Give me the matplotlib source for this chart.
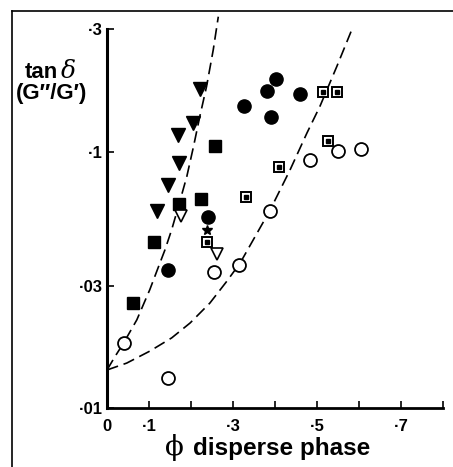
import numpy as np
import matplotlib.pyplot as plt
from matplotlib.lines import Line2D

# ------------------------
# Data
# ------------------------
tri_filled_x = [0.222, 0.204, 0.170, 0.172, 0.146, 0.119]
tri_filled_y = [0.175, 0.129, 0.116, 0.0906, 0.0742, 0.0588]

sq_filled_x = [0.257, 0.2245, 0.171, 0.111, 0.0626]
sq_filled_y = [0.1055, 0.0655, 0.0622, 0.0444, 0.0256]

circ_filled_x = [0.402, 0.381, 0.459, 0.326, 0.390, 0.240, 0.145]
circ_filled_y = [0.192, 0.172, 0.168, 0.150, 0.136, 0.0557, 0.0346]

circ_open_x = [0.040, 0.145, 0.254, 0.314, 0.387, 0.483, 0.549, 0.605]
circ_open_y = [0.0180, 0.0131, 0.0340, 0.0362, 0.0589, 0.0928, 0.1006, 0.1024]

sq_dot_x = [0.514, 0.548, 0.527, 0.409, 0.330, 0.238]
sq_dot_y = [0.170, 0.170, 0.110, 0.087, 0.0666, 0.0445]

tri_open_x = [0.176, 0.262]
tri_open_y = [0.0562, 0.0399]

star_x = [0.238]
star_y = [0.0496]

# dashed curves
curve1_x = [0, 0.019, 0.039, 0.071, 0.102, 0.126, 0.138, 0.154, 0.170, 0.190,
            0.206, 0.221, 0.237, 0.253, 0.265]
curve1_y = [0.0141, 0.0159, 0.0179, 0.0221, 0.0290, 0.0368, 0.0414, 0.0496, 0.0611,
            0.0799, 0.1046, 0.137, 0.179, 0.249, 0.335]

curve2_x = [0, 0.047, 0.102, 0.154, 0.198, 0.245, 0.285, 0.317, 0.388, 0.436,
            0.476, 0.507, 0.547, 0.581]
curve2_y = [0.0141, 0.0150, 0.0167, 0.0188, 0.0215, 0.0257, 0.0312, 0.0368, 0.0590,
            0.0849, 0.118, 0.150, 0.214, 0.293]

x_ticks = [0, 0.1, 0.2, 0.3, 0.4, 0.5, 0.6, 0.7, 0.8]
x_tick_labels = ['0', '\u00b71', '', '\u00b73', '', '\u00b75', '', '\u00b77', '']
y_ticks = [0.01, 0.03, 0.1, 0.3]
y_tick_labels = ['\u00b701', '\u00b703', '\u00b71', '\u00b73']

plt.rcParams['font.family'] = ['Liberation Sans', 'DejaVu Sans']

fig = plt.figure(figsize=(4.53, 4.67), dpi=100)
ax = fig.add_axes([0.2362, 0.1257, 0.7417, 0.8122])

# scan border (top and left)
fig.add_artist(Line2D([0.026, 1.0], [0.977, 0.977], color='black', lw=1.2))
fig.add_artist(Line2D([0.026, 0.026], [0.0, 0.977], color='black', lw=1.2))

ax.set_yscale('log')
ax.set_xlim(0, 0.8)
ax.set_ylim(0.01, 0.3)

dash = (7, 3.5)
ax.plot(curve1_x, curve1_y, color='black', lw=1.2, dashes=dash, clip_on=False)
ax.plot(curve2_x, curve2_y, color='black', lw=1.2, dashes=dash, clip_on=False)

ax.plot(tri_filled_x, tri_filled_y, 'v', ms=9.5, color='black', clip_on=False)
ax.plot(sq_filled_x, sq_filled_y, 's', ms=8, color='black', clip_on=False)
ax.plot(circ_filled_x, circ_filled_y, 'o', ms=9.5, color='black', clip_on=False)
ax.plot(circ_open_x, circ_open_y, 'o', ms=9.3, mfc='white', mec='black', mew=1.3,
        clip_on=False)
ax.plot(sq_dot_x, sq_dot_y, 's', ms=7.5, mfc='white', mec='black', mew=1.4,
        clip_on=False)
ax.plot(sq_dot_x, sq_dot_y, 's', ms=2.5, color='black', clip_on=False)
ax.plot(tri_open_x, tri_open_y, 'v', ms=8.5, mfc='white', mec='black', mew=1.2,
        clip_on=False)
ax.plot(star_x, star_y, '*', ms=7, color='black', clip_on=False)

for s in ['top', 'right']:
    ax.spines[s].set_visible(False)
ax.spines['left'].set_linewidth(2.2)
ax.spines['bottom'].set_linewidth(2.0)

ax.set_xticks(x_ticks)
ax.set_xticklabels(x_tick_labels, fontsize=12, fontweight='bold')
ax.set_yticks(y_ticks)
ax.set_yticklabels(y_tick_labels, fontsize=12, fontweight='bold')
ax.yaxis.set_minor_locator(plt.NullLocator())
ax.tick_params(axis='both', direction='in', length=5, width=1.2)
ax.tick_params(axis='x', pad=8)
ax.tick_params(axis='y', pad=3)

fig.text(0.091, 0.833, 'tan', fontsize=16, fontweight='bold', ha='center',
         va='baseline')
fig.text(0.152, 0.833, '\u03b4', fontsize=18, fontstyle='italic', ha='center',
         va='baseline', family='DejaVu Serif')
fig.text(0.113, 0.787, '(G\u2033/G\u2032)', fontsize=16, fontweight='bold',
         ha='center', va='baseline')

fig.text(0.384, 0.026, '\u03d5', fontsize=20, ha='center', va='baseline',
         family='DejaVu Serif')
fig.text(0.426, 0.026, 'disperse phase', fontsize=17.5, fontweight='bold',
         ha='left', va='baseline')

fig.savefig('out.png', dpi=100)
